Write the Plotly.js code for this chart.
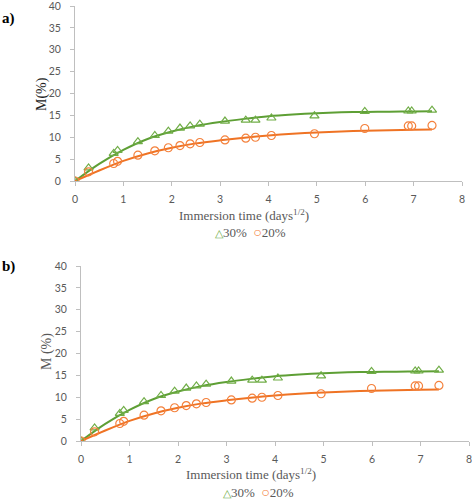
<!DOCTYPE html>
<html>
<head>
<meta charset="utf-8">
<script src="https://cdn.plot.ly/plotly-3.0.1.min.js"></script>
<style>html,body{margin:0;padding:0;background:#fff;}#chart{width:472px;height:500px;}</style>
</head>
<body>
<div id="chart"></div>
<script>
// measured points, time in days^1/2
const time30 = [0, 0.28, 0.80, 0.88, 1.30, 1.65, 1.93, 2.17, 2.38, 2.58, 3.10, 3.53, 3.73, 4.06, 4.95, 5.99, 6.89, 6.96, 7.38];
const m30    = [0, 3.0, 6.3, 7.0, 9.0, 10.4, 11.4, 12.1, 12.6, 13.0, 13.7, 13.9, 13.9, 14.4, 14.9, 15.9, 16.0, 16.0, 16.2];
const time20 = [0, 0.28, 0.80, 0.88, 1.30, 1.65, 1.93, 2.17, 2.38, 2.58, 3.10, 3.53, 3.73, 4.06, 4.95, 5.99, 6.89, 6.96, 7.38];
const m20    = [0, 2.1, 4.0, 4.5, 5.9, 6.9, 7.6, 8.1, 8.5, 8.8, 9.4, 9.8, 10.0, 10.4, 10.8, 12.0, 12.6, 12.6, 12.7];
// fitted curves
const fitTime = [0, 0.5, 1, 1.5, 2, 2.5, 3, 3.5, 4, 4.5, 5, 5.5, 6, 6.5, 7, 7.38];
const fit30   = [0, 3.9, 7.1, 9.6, 11.3, 12.6, 13.5, 14.2, 14.8, 15.2, 15.5, 15.7, 15.8, 15.85, 15.9, 15.95];
const fit20   = [0, 2.4, 4.6, 6.3, 7.6, 8.6, 9.3, 9.9, 10.4, 10.8, 11.1, 11.3, 11.5, 11.6, 11.7, 11.75];
const xTicks = [0, 1, 2, 3, 4, 5, 6, 7, 8];
const yTicks = [0, 5, 10, 15, 20, 25, 30, 35, 40];
const seriesNames = ['30%', '20%'];
const xTitle = 'Immersion time (days<sup>1/2</sup>)';
const yTitleA = 'M(%)', yTitleB = 'M (%)';

const green = '#70AD47', greenLine = '#5E9F35';
const orange = '#F4813C', orangeLine = '#EF7324';
const gray = '#595959', axisGray = '#BFBFBF';
const serif = 'Liberation Serif, Times New Roman, serif';
const sans = 'Lato, Carlito, Open Sans, sans-serif';

function traces(xa, ya) {
  return [
    {x: fitTime, y: fit30, xaxis: xa, yaxis: ya, mode: 'lines', line: {color: greenLine, width: 2, shape: 'spline', smoothing: 0.8}, showlegend: false, hoverinfo: 'skip'},
    {x: fitTime, y: fit20, xaxis: xa, yaxis: ya, mode: 'lines', line: {color: orangeLine, width: 2, shape: 'spline', smoothing: 0.8}, showlegend: false, hoverinfo: 'skip'},
    {x: time30, y: m30, xaxis: xa, yaxis: ya, mode: 'markers', name: seriesNames[0], showlegend: false,
     marker: {symbol: 'triangle-up-open', size: 8, color: green, line: {width: 1.2, color: green}}},
    {x: time20, y: m20, xaxis: xa, yaxis: ya, mode: 'markers', name: seriesNames[1], showlegend: false,
     marker: {symbol: 'circle-open', size: 8, color: orange, line: {width: 1.2, color: orange}}}
  ];
}

function xaxis(domain, anchor) {
  return {domain: domain, anchor: anchor, range: [0, 8], tickvals: xTicks, ticktext: xTicks.map(String),
    showgrid: false, zeroline: false, showline: true, linecolor: axisGray, linewidth: 1,
    ticks: 'outside', ticklen: 4, tickcolor: axisGray, ticklabelstandoff: 4, ticklabeloverflow: 'allow',
    tickfont: {family: sans, size: 10.5, color: gray}};
}
function yaxis(domain, anchor) {
  return {domain: domain, anchor: anchor, range: [0, 40], tickvals: yTicks, ticktext: yTicks.map(String),
    showgrid: false, zeroline: false, showline: true, linecolor: axisGray, linewidth: 1,
    ticks: 'outside', ticklen: 4, tickcolor: axisGray, ticklabelstandoff: 7, ticklabeloverflow: 'allow',
    tickfont: {family: sans, size: 10.5, color: gray}};
}

const data = traces('x', 'y').concat(traces('x2', 'y2'));

function legendText() {
  return '<span style="color:' + green + ';font-size:11px">△</span>' + seriesNames[0] +
         '&nbsp;&nbsp;<span style="color:' + orange + ';font-size:14px">○</span>' + seriesNames[1];
}
function ann(text, x, y, size, color, extra) {
  return Object.assign({text: text, xref: 'paper', yref: 'paper', x: x / 472, y: (500 - y) / 500,
    xanchor: 'center', yanchor: 'middle', showarrow: false, font: {family: serif, size: size, color: color}}, extra || {});
}

const layout = {
  width: 472, height: 500,
  margin: {l: 0, r: 0, t: 0, b: 0},
  paper_bgcolor: '#fff', plot_bgcolor: '#fff',
  xaxis: xaxis([75/472, 462/472], 'y'),
  yaxis: yaxis([(500-181)/500, (500-6)/500], 'x'),
  xaxis2: xaxis([81/472, 469/472], 'y2'),
  yaxis2: yaxis([(500-441)/500, (500-266)/500], 'x2'),
  showlegend: false,
  annotations: [
    ann('<b>a)</b>', 0, 18, 15, '#000', {xanchor: 'left'}),
    ann('<b>b)</b>', 0, 266, 15, '#000', {xanchor: 'left'}),
    ann(yTitleA, 42, 94, 14, '#222', {textangle: -90}),
    ann(yTitleB, 47, 352, 14, gray, {textangle: -90}),
    ann(xTitle, 244, 215, 13, gray),
    ann(xTitle, 251, 474, 13, gray),
    ann(legendText(), 250.5, 233, 13, gray),
    ann(legendText(), 258, 492, 13, gray)
  ]
};

Plotly.newPlot('chart', data, layout, {staticPlot: true, displayModeBar: false});
</script>
</body>
</html>
